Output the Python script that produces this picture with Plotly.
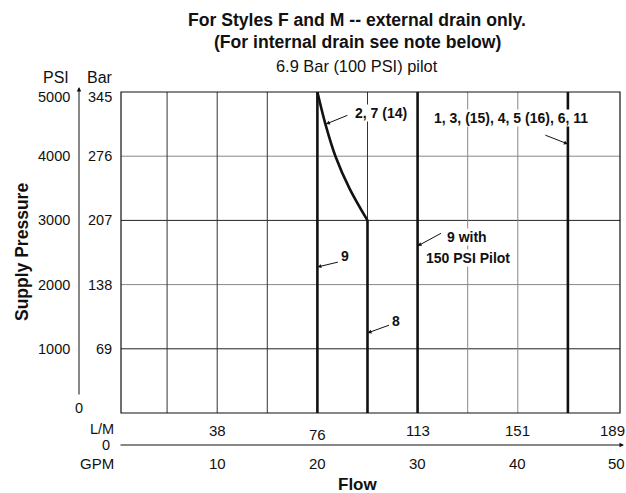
import plotly.graph_objects as go

# ---------------- data ----------------
gpm_ticks = [10, 20, 30, 40, 50]
lpm_labels = ["38", "76", "113", "151", "189"]
psi_ticks = [1000, 2000, 3000, 4000, 5000]
bar_labels = ["69", "138", "207", "276", "345"]

# performance limit lines (flow GPM vs supply pressure PSI)
curve_2_7_gpm = [20.0, 20.8, 21.8, 23.2, 25.0]
curve_2_7_psi = [5000, 4500, 4000, 3500, 3000]
line_8_gpm = [25, 25]
line_8_psi = [0, 3000]
line_9_gpm = [20, 20]
line_9_psi = [0, 5000]
line_9hp_gpm = [30, 30]
line_9hp_psi = [0, 5000]
line_1_gpm = [45, 45]
line_1_psi = [0, 5000]

FONT = "Liberation Sans, Arial, sans-serif"
BLACK = "#111111"

# reference-pixel helpers (plot area: x 121..620, y 92..413)
PX0, PW, PY0, PH = 121, 499, 413, 321
def px(x):
    return (x - PX0) / PW
def py(y):
    return (PY0 - y) / PH

fig = go.Figure()

fig.add_trace(go.Scatter(x=curve_2_7_gpm, y=curve_2_7_psi, mode="lines",
                         line=dict(color=BLACK, width=2.6, shape="spline", smoothing=1.0),
                         showlegend=False, hoverinfo="skip", cliponaxis=False))
for xs, ys in [(line_8_gpm, line_8_psi), (line_9_gpm, line_9_psi),
               (line_9hp_gpm, line_9hp_psi), (line_1_gpm, line_1_psi)]:
    fig.add_trace(go.Scatter(x=xs, y=ys, mode="lines",
                             line=dict(color=BLACK, width=2.6),
                             showlegend=False, hoverinfo="skip", cliponaxis=False))

shapes = []
for gx, col in [(5, "#333"), (10, "#333"), (15, "#333"), (25, "#333"),
                (35, "#888"), (40, "#888")]:
    shapes.append(dict(type="line", xref="x", yref="y", x0=gx, x1=gx, y0=0, y1=5000,
                       line=dict(color=col, width=1), layer="below"))
for gy, col in [(1000, "#222"), (2000, "#888"), (3000, "#222"), (4000, "#888")]:
    shapes.append(dict(type="line", xref="paper", yref="y", x0=0, x1=1, y0=gy, y1=gy,
                       line=dict(color=col, width=1), layer="below"))
shapes.append(dict(type="rect", xref="paper", yref="paper", x0=0, x1=1, y0=0, y1=1,
                   line=dict(color=BLACK, width=1.2), layer="above"))

ann = []
def txt(text, x, y, xref="x", yref="y", size=15, bold=False, xanchor="center",
        yanchor="middle", bg=None, textangle=0, yshift=0, xshift=0):
    d = dict(text=f"<b>{text}</b>" if bold else text, x=x, y=y, xref=xref, yref=yref,
             showarrow=False, xanchor=xanchor, yanchor=yanchor,
             font=dict(family=FONT, size=size, color=BLACK), textangle=textangle,
             yshift=yshift, xshift=xshift, borderpad=0)
    if bg:
        d["bgcolor"] = bg
    ann.append(d)

def arrow(x, y, ax, ay, xref="x", yref="y", head=2, size=0.8, width=1):
    ann.append(dict(text="", x=x, y=y, xref=xref, yref=yref, ax=ax, ay=ay,
                    showarrow=True, arrowhead=head, arrowsize=size, arrowwidth=width,
                    arrowcolor=BLACK, borderpad=0))

# titles
txt("For Styles F and M -- external drain only.", px(357), py(20), xref="paper", yref="paper", size=17.6, bold=True)
txt("(For internal drain see note below)", px(357), py(42), xref="paper", yref="paper", size=17.6, bold=True)
txt("6.9 Bar (100 PSI) pilot", px(357), py(66), xref="paper", yref="paper", size=16.4)

# y axis labels
txt("PSI", px(56), py(77), xref="paper", yref="paper", size=16)
txt("Bar", px(100), py(77), xref="paper", yref="paper", size=16)
for p, b in zip(psi_ticks, bar_labels):
    sh = -5 if p == 5000 else 0
    txt(str(p), px(71), p, xref="paper", xanchor="right", yshift=sh, size=14.5)
    txt(b, px(113), p, xref="paper", xanchor="right", yshift=sh, size=14.5)
txt("0", px(79), 0, xref="paper", yshift=5, size=14.5)
txt("Supply Pressure", px(22), py(252), xref="paper", yref="paper",
    bold=True, textangle=-90, size=17.5)
arrow(px(79), py(87), 0, 308, xref="paper", yref="paper", head=2, size=0.9)

# x axis labels
txt("L/M", px(102), 0, xref="paper", yshift=-16, size=14.5)
txt("0", px(106), 0, xref="paper", yshift=-32, size=14.5)
txt("GPM", px(97), 0, xref="paper", yshift=-50, size=15)
for g, l in zip(gpm_ticks, lpm_labels):
    if g == gpm_ticks[-1]:
        # last labels sit flush against the right edge
        txt(l, px(626), 0, xref="paper", xanchor="right", yshift=-17, size=15)
        txt(str(g), px(626), 0, xref="paper", xanchor="right", yshift=-50, size=15)
    else:
        txt(l, g, 0, yshift=-21 if g == 20 else -17, size=15)
        txt(str(g), g, 0, yshift=-50, size=15)
txt("Flow", px(357), py(484), xref="paper", yref="paper", bold=True, size=17)
arrow(px(624), py(445), -504, 0, xref="paper", yref="paper", head=2, size=0.9)

# curve labels
txt("2, 7 (14)", 26.3, 4673, bold=True, size=14, bg="white")
txt("1, 3, (15), 4, 5 (16), 6, 11", 39.3, 4595, bold=True, size=14, bg="white")
txt("9", 22.8, 2445, bold=True, size=14, bg="white")
txt("9 with", 34.93, 2741, bold=True, size=14, bg="white")
txt("150 PSI Pilot", 35.03, 2414, bold=True, size=14, bg="white")
txt("8", 27.8, 1433, bold=True, size=14, bg="white")

arrow(20.85, 4500, 22, -9)
arrow(45, 4190, -23, -9)
arrow(20, 2274, 21, -5)
arrow(30, 2601, 24, -13)
arrow(25, 1246, 22, -8)

fig.update_layout(
    width=626, height=493,
    margin=dict(l=121, r=6, t=92, b=80),
    paper_bgcolor="white", plot_bgcolor="white",
    xaxis=dict(range=[0.4, 50.2], showgrid=False, zeroline=False, showticklabels=False,
               ticks="", showline=False, fixedrange=True),
    yaxis=dict(range=[0, 5000], showgrid=False, zeroline=False, showticklabels=False,
               ticks="", showline=False, fixedrange=True),
    shapes=shapes, annotations=ann, showlegend=False,
)

fig.write_html("out.html", config={"displayModeBar": False},
               post_script="document.body.style.margin='0';document.body.style.overflow='hidden';")
